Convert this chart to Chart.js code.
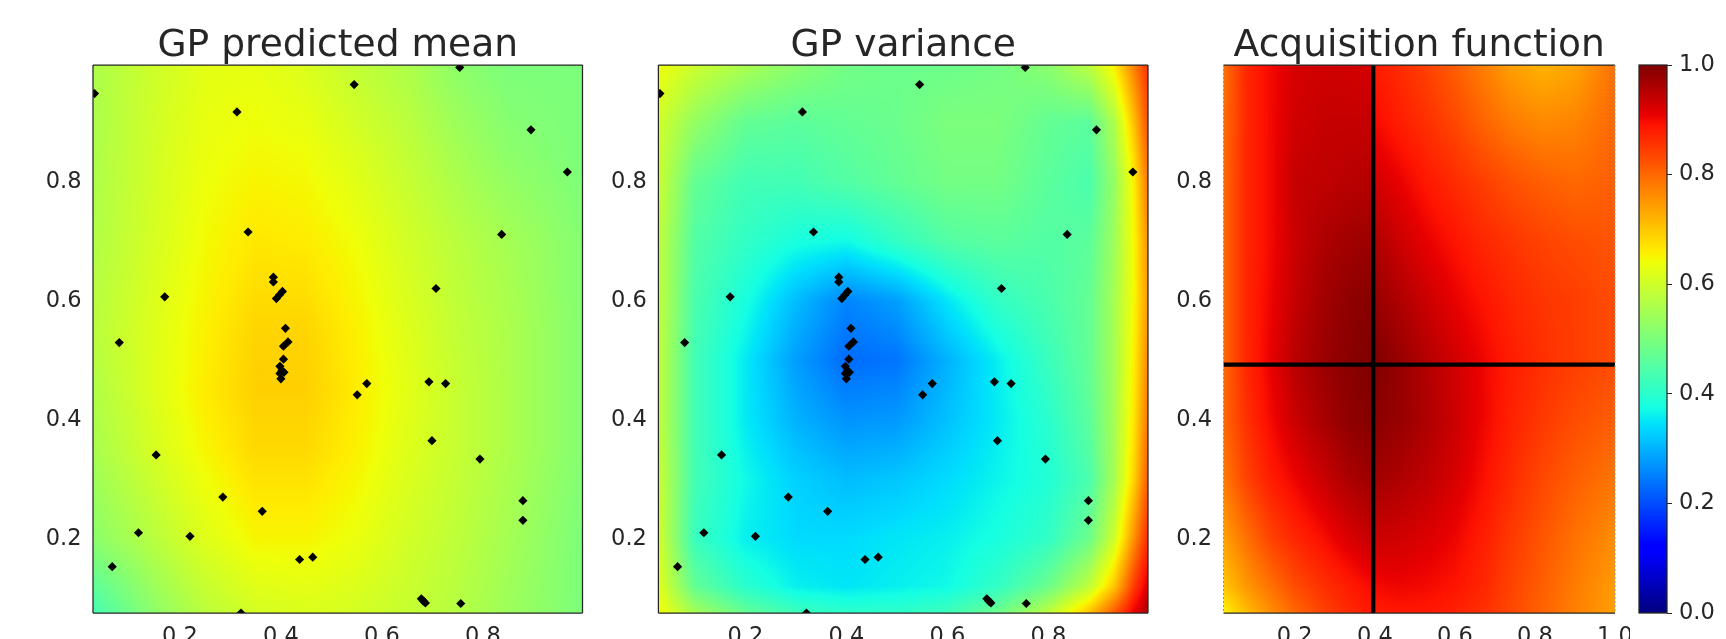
<!DOCTYPE html>
<html><head><meta charset="utf-8">
<script src="https://cdn.jsdelivr.net/npm/chart.js@4.4.0/dist/chart.umd.min.js"></script>
<style>
html,body{margin:0;padding:0;background:#fff;overflow:hidden;width:1726px;height:639px}
#wrap{position:relative;width:1726px;height:680px}
canvas{position:absolute;top:0}
</style></head><body><div id="wrap">
<canvas id="c1" width="600" height="680" style="left:0px;width:600px;height:680px"></canvas>
<canvas id="c2" width="600" height="680" style="left:565px;width:600px;height:680px"></canvas>
<canvas id="c3" width="500" height="680" style="left:1130px;width:500px;height:680px"></canvas>
<canvas id="c4" width="126" height="680" style="left:1600px;width:126px;height:680px"></canvas>
</div>
<script>
// ---------- data ----------
const titles = ['GP predicted mean', 'GP variance', 'Acquisition function'];
const xLimGP = [0.028, 0.997];
const xLimAcq = [0.022, 1.0];
const yLim = [0.075, 0.997];
const xTicksGP = [0.2, 0.4, 0.6, 0.8];
const xTicksAcq = [0.2, 0.4, 0.6, 0.8, 1.0];
const yTicks = [0.2, 0.4, 0.6, 0.8];
const cbTicks = [0.0, 0.2, 0.4, 0.6, 0.8, 1.0];
const nextPoint = [0.396, 0.493];

const ptsX = [0.031,0.313,0.545,0.754,0.895,0.967,0.335,0.837,0.170,0.707,0.080,
  0.385,0.385,0.403,0.397,0.391,0.409,0.414,0.405,0.405,0.398,0.402,0.406,0.398,0.400,
  0.551,0.570,0.693,0.726,0.699,0.794,0.153,0.285,0.363,0.118,0.220,0.066,0.437,0.463,
  0.879,0.879,0.678,0.682,0.686,0.756,0.321];
const ptsY = [0.949,0.918,0.964,0.993,0.888,0.817,0.716,0.712,0.607,0.621,0.530,
  0.640,0.632,0.616,0.610,0.604,0.554,0.531,0.524,0.502,0.490,0.483,0.480,0.478,0.469,
  0.442,0.461,0.464,0.461,0.365,0.334,0.341,0.270,0.246,0.210,0.204,0.153,0.165,0.169,
  0.264,0.231,0.099,0.095,0.092,0.091,0.075];

// GP mean grid (colormap-normalised), rows top -> bottom
const meanX = [0.03,0.15,0.25,0.35,0.45,0.55,0.65,0.75,0.85,1.0];
const meanY = [1.0,0.85,0.7,0.55,0.45,0.35,0.2,0.07];
const meanRow1 = [0.56,0.60,0.625,0.63,0.615,0.585,0.56,0.52,0.50,0.50];
const meanRow2 = [0.56,0.605,0.635,0.645,0.64,0.615,0.585,0.55,0.52,0.50];
const meanRow3 = [0.565,0.61,0.645,0.665,0.66,0.64,0.605,0.575,0.55,0.51];
const meanRow4 = [0.575,0.62,0.655,0.685,0.685,0.655,0.62,0.585,0.56,0.51];
const meanRow5 = [0.565,0.62,0.66,0.69,0.69,0.66,0.625,0.59,0.56,0.51];
const meanRow6 = [0.555,0.61,0.65,0.68,0.68,0.655,0.62,0.59,0.56,0.51];
const meanRow7 = [0.52,0.575,0.62,0.65,0.65,0.635,0.605,0.58,0.55,0.50];
const meanRow8 = [0.43,0.52,0.575,0.605,0.615,0.605,0.59,0.57,0.54,0.50];

// GP variance grid
const varX = [0.03,0.1,0.2,0.3,0.4,0.5,0.6,0.7,0.8,0.88,0.93,0.97,1.0];
const varY = [1.0,0.9,0.8,0.7,0.6,0.5,0.4,0.3,0.2,0.12,0.07];
const varRow1  = [0.64,0.60,0.56,0.52,0.49,0.48,0.48,0.49,0.52,0.58,0.66,0.78,0.87];
const varRow2  = [0.60,0.53,0.47,0.46,0.47,0.48,0.50,0.50,0.47,0.46,0.56,0.71,0.84];
const varRow3  = [0.59,0.47,0.43,0.43,0.45,0.47,0.49,0.49,0.46,0.44,0.53,0.66,0.80];
const varRow4  = [0.58,0.45,0.41,0.38,0.37,0.41,0.45,0.46,0.45,0.46,0.54,0.65,0.77];
const varRow5  = [0.58,0.44,0.38,0.31,0.255,0.28,0.35,0.41,0.44,0.47,0.55,0.65,0.76];
const varRow6  = [0.58,0.43,0.355,0.28,0.23,0.24,0.30,0.36,0.42,0.47,0.55,0.66,0.78];
const varRow7  = [0.58,0.43,0.355,0.30,0.27,0.275,0.315,0.355,0.40,0.46,0.55,0.67,0.80];
const varRow8  = [0.59,0.43,0.37,0.33,0.31,0.32,0.34,0.365,0.39,0.44,0.55,0.69,0.83];
const varRow9  = [0.60,0.42,0.36,0.34,0.34,0.35,0.36,0.38,0.41,0.48,0.60,0.76,0.88];
const varRow10 = [0.62,0.47,0.40,0.36,0.35,0.36,0.37,0.41,0.48,0.58,0.70,0.85,0.93];
const varRow11 = [0.65,0.56,0.48,0.43,0.41,0.41,0.43,0.49,0.59,0.72,0.83,0.92,0.97];

// Acquisition grid (two columns either side of the chosen x)
const acqX = [0.022,0.08,0.14,0.2,0.27,0.33,0.394,0.398,0.46,0.53,0.6,0.67,0.74,0.82,0.9,1.0];
const acqY = [1.0,0.9,0.8,0.7,0.6,0.5,0.4,0.3,0.2,0.12,0.075];
const acqRow1  = [0.79,0.87,0.90,0.925,0.93,0.93,0.925, 0.88,0.865,0.84,0.81,0.775,0.74,0.72,0.735,0.79];
const acqRow2  = [0.795,0.87,0.90,0.93,0.94,0.94,0.94, 0.90,0.88,0.86,0.835,0.805,0.78,0.765,0.77,0.80];
const acqRow3  = [0.80,0.87,0.90,0.94,0.945,0.95,0.955, 0.93,0.91,0.885,0.865,0.845,0.825,0.81,0.80,0.81];
const acqRow4  = [0.80,0.87,0.90,0.935,0.96,0.97,0.975, 0.96,0.935,0.91,0.89,0.87,0.855,0.84,0.83,0.82];
const acqRow5  = [0.80,0.87,0.905,0.94,0.97,0.985,0.995, 0.98,0.96,0.935,0.91,0.89,0.87,0.855,0.845,0.83];
const acqRow6  = [0.80,0.87,0.91,0.95,0.975,0.99,1.0, 1.0,0.98,0.955,0.93,0.905,0.88,0.86,0.845,0.83];
const acqRow7  = [0.80,0.86,0.90,0.935,0.965,0.985,0.995, 0.99,0.98,0.96,0.935,0.905,0.875,0.85,0.83,0.81];
const acqRow8  = [0.78,0.84,0.88,0.905,0.935,0.96,0.975, 0.97,0.96,0.945,0.925,0.895,0.865,0.835,0.81,0.785];
const acqRow9  = [0.74,0.79,0.84,0.87,0.895,0.92,0.94, 0.935,0.93,0.92,0.905,0.88,0.85,0.82,0.79,0.76];
const acqRow10 = [0.70,0.75,0.79,0.83,0.86,0.88,0.90, 0.90,0.905,0.90,0.89,0.87,0.84,0.81,0.78,0.745];
const acqRow11 = [0.65,0.71,0.76,0.80,0.84,0.865,0.885, 0.88,0.885,0.885,0.875,0.86,0.835,0.805,0.775,0.74];

const meanGrid = [meanRow1,meanRow2,meanRow3,meanRow4,meanRow5,meanRow6,meanRow7,meanRow8];
const varGrid = [varRow1,varRow2,varRow3,varRow4,varRow5,varRow6,varRow7,varRow8,varRow9,varRow10,varRow11];
const acqGrid = [acqRow1,acqRow2,acqRow3,acqRow4,acqRow5,acqRow6,acqRow7,acqRow8,acqRow9,acqRow10,acqRow11];

// ---------- helpers ----------
const TXT = '#262626';
Chart.defaults.font.family = "'DejaVu Sans', sans-serif";
Chart.defaults.color = TXT;
Chart.defaults.animation = false;

function seg(v, pts){
  for (let k = 0; k < pts.length - 1; k++){
    if (v <= pts[k+1][0]){ const t = (v - pts[k][0])/(pts[k+1][0]-pts[k][0]); return pts[k][1] + t*(pts[k+1][1]-pts[k][1]); }
  }
  return pts[pts.length-1][1];
}
const JR = [[0,0],[0.35,0],[0.66,1],[0.89,1],[1,0.5]];
const JG = [[0,0],[0.125,0],[0.375,1],[0.64,1],[0.91,0],[1,0]];
const JB = [[0,0.5],[0.11,1],[0.34,1],[0.65,0],[1,0]];
function jet(v){ v = Math.min(1, Math.max(0, v)); return [seg(v,JR)*255, seg(v,JG)*255, seg(v,JB)*255]; }
function locate(arr, v){
  const n = arr.length;
  if (v <= arr[0]) return [0, 0];
  if (v >= arr[n-1]) return [n-2, 1];
  let k = 0; while (arr[k+1] < v) k++;
  return [k, (v - arr[k])/(arr[k+1]-arr[k])];
}
function makeHeat(xs, ys, grid){
  const ya = ys.slice().reverse(), ga = grid.slice().reverse();
  return { id: 'heat', beforeDatasetsDraw(chart){
    const a = chart.chartArea, sx = chart.scales.x, sy = chart.scales.y;
    const L = Math.floor(a.left), T = Math.floor(a.top), W = Math.ceil(a.right) - L, H = Math.ceil(a.bottom) - T;
    const off = document.createElement('canvas'); off.width = W; off.height = H;
    const octx = off.getContext('2d'); const img = octx.createImageData(W, H);
    const cx = [], cy = [];
    for (let i = 0; i < W; i++) cx.push(locate(xs, sx.getValueForPixel(L + i + 0.5)));
    for (let j = 0; j < H; j++) cy.push(locate(ya, sy.getValueForPixel(T + j + 0.5)));
    for (let j = 0; j < H; j++){
      const [j0, ty] = cy[j];
      const r0 = ga[j0], r1 = ga[j0+1];
      for (let i = 0; i < W; i++){
        const [i0, tx] = cx[i];
        const v = (r0[i0]*(1-tx) + r0[i0+1]*tx)*(1-ty) + (r1[i0]*(1-tx) + r1[i0+1]*tx)*ty;
        const c = jet(v), p = (j*W + i)*4;
        img.data[p] = c[0]; img.data[p+1] = c[1]; img.data[p+2] = c[2]; img.data[p+3] = 255;
      }
    }
    octx.putImageData(img, 0, 0);
    const ctx = chart.ctx; ctx.save(); ctx.beginPath();
    ctx.rect(a.left, a.top, a.right - a.left, a.bottom - a.top); ctx.clip();
    ctx.drawImage(off, L, T); ctx.restore();
  }};
}
function makeFrame(dashedSides){
  return { id: 'frame', afterDatasetsDraw(chart){
    const a = chart.chartArea, ctx = chart.ctx; ctx.save();
    ctx.lineWidth = 1.25; ctx.strokeStyle = TXT; ctx.beginPath();
    ctx.moveTo(a.left, a.top); ctx.lineTo(a.right, a.top);
    ctx.moveTo(a.left, a.bottom); ctx.lineTo(a.right, a.bottom);
    if (!dashedSides){ ctx.moveTo(a.left, a.top); ctx.lineTo(a.left, a.bottom); ctx.moveTo(a.right, a.top); ctx.lineTo(a.right, a.bottom); }
    ctx.stroke();
    if (dashedSides){
      ctx.strokeStyle = '#8c96a0'; ctx.lineWidth = 1; ctx.setLineDash([2,2]); ctx.beginPath();
      ctx.moveTo(a.left, a.top); ctx.lineTo(a.left, a.bottom); ctx.moveTo(a.right, a.top); ctx.lineTo(a.right, a.bottom);
      ctx.stroke();
    }
    ctx.restore();
  }};
}
function fixTicks(arr){ return s => { s.ticks = arr.map(v => ({value: v})); }; }
function zeroPad(s){ s.paddingLeft = 0; s.paddingRight = 0; s.paddingTop = 0; s.paddingBottom = 0; }
function scalesFor(xlim, xt){
  return {
    x: { type: 'linear', min: xlim[0], max: xlim[1], afterBuildTicks: fixTicks(xt),
         afterFit: s => { s.height = 67; zeroPad(s); },
         grid: { display: false, drawTicks: false }, border: { display: false },
         ticks: { padding: 10.5, font: { size: 22.5 }, color: TXT, maxRotation: 0, autoSkip: false, callback: v => Number(v).toFixed(1) } },
    y: { type: 'linear', min: yLim[0], max: yLim[1], afterBuildTicks: fixTicks(yTicks),
         afterFit: s => { s.width = 93; zeroPad(s); },
         grid: { display: false, drawTicks: false }, border: { display: false },
         ticks: { padding: 11.5, font: { size: 22.5 }, color: TXT, autoSkip: false, callback: v => Number(v).toFixed(1) } }
  };
}
function titleOpt(t){
  return { display: true, text: t, fullSize: false, color: TXT,
           font: { size: 37.6, weight: 'normal', lineHeight: 1.0 }, padding: { top: 27.4, bottom: 0 } };
}
const pts = ptsX.map((x, i) => ({ x: x, y: ptsY[i] }));
function scatterSet(){
  return { type: 'scatter', data: pts, pointStyle: 'rectRot', pointRadius: 4.6, pointHoverRadius: 4.6,
           backgroundColor: '#000', borderColor: '#000', borderWidth: 0, clip: 0 };
}

// ---------- panel 1 ----------
new Chart(document.getElementById('c1'), {
  type: 'scatter',
  data: { datasets: [scatterSet()] },
  options: { responsive: false, events: [], layout: { padding: { left: 0, right: 17.5, top: 0, bottom: 0 } },
    scales: scalesFor(xLimGP, xTicksGP),
    plugins: { legend: { display: false }, tooltip: { enabled: false }, title: titleOpt(titles[0]) } },
  plugins: [makeHeat(meanX, meanY, meanGrid), makeFrame(false)]
});
// ---------- panel 2 ----------
new Chart(document.getElementById('c2'), {
  type: 'scatter',
  data: { datasets: [scatterSet()] },
  options: { responsive: false, events: [], layout: { padding: { left: 0.4, right: 17, top: 0, bottom: 0 } },
    scales: scalesFor(xLimGP, xTicksGP),
    plugins: { legend: { display: false }, tooltip: { enabled: false }, title: titleOpt(titles[1]) } },
  plugins: [makeHeat(varX, varY, varGrid), makeFrame(false)]
});
// ---------- panel 3 ----------
new Chart(document.getElementById('c3'), {
  type: 'line',
  data: { datasets: [
    { data: [{x: nextPoint[0], y: yLim[0]}, {x: nextPoint[0], y: yLim[1]}], borderColor: '#000', borderWidth: 4.3, pointRadius: 0, borderCapStyle: 'butt' },
    { data: [{x: xLimAcq[0], y: nextPoint[1]}, {x: xLimAcq[1], y: nextPoint[1]}], borderColor: '#000', borderWidth: 4.3, pointRadius: 0, borderCapStyle: 'butt' }
  ] },
  options: { responsive: false, events: [], layout: { padding: { left: 0.5, right: 15, top: 0, bottom: 0 } },
    scales: scalesFor(xLimAcq, xTicksAcq),
    plugins: { legend: { display: false }, tooltip: { enabled: false }, title: titleOpt(titles[2]) } },
  plugins: [makeHeat(acqX, acqY, acqGrid), makeFrame(true)]
});
// ---------- colorbar ----------
const cbPlugin = { id: 'cb', beforeDatasetsDraw(chart){
  const a = chart.chartArea, sy = chart.scales.y, ctx = chart.ctx;
  for (let py = Math.floor(a.top); py < Math.ceil(a.bottom); py++){
    const c = jet(sy.getValueForPixel(py + 0.5));
    ctx.fillStyle = 'rgb(' + c.map(Math.round).join(',') + ')';
    ctx.fillRect(a.left, py, a.right - a.left, 1);
  }
  ctx.save(); ctx.strokeStyle = TXT; ctx.lineWidth = 1.25;
  ctx.strokeRect(a.left, a.top, a.right - a.left, a.bottom - a.top); ctx.restore();
}};
new Chart(document.getElementById('c4'), {
  type: 'scatter',
  data: { datasets: [{ data: [] }] },
  options: { responsive: false, events: [], layout: { padding: { left: 39, right: 0, top: 65, bottom: 67 } },
    scales: {
      x: { display: false, min: 0, max: 1 },
      y: { position: 'right', min: 0, max: 1, afterBuildTicks: fixTicks(cbTicks),
           afterFit: s => { s.width = 59; zeroPad(s); },
           grid: { display: true, drawOnChartArea: false, drawTicks: true, tickLength: 5, color: TXT, lineWidth: 1 },
           border: { display: false },
           ticks: { padding: 7, font: { size: 22.5 }, color: TXT, autoSkip: false, callback: v => Number(v).toFixed(1) } }
    },
    plugins: { legend: { display: false }, tooltip: { enabled: false } } },
  plugins: [cbPlugin]
});
</script>
</body></html>
